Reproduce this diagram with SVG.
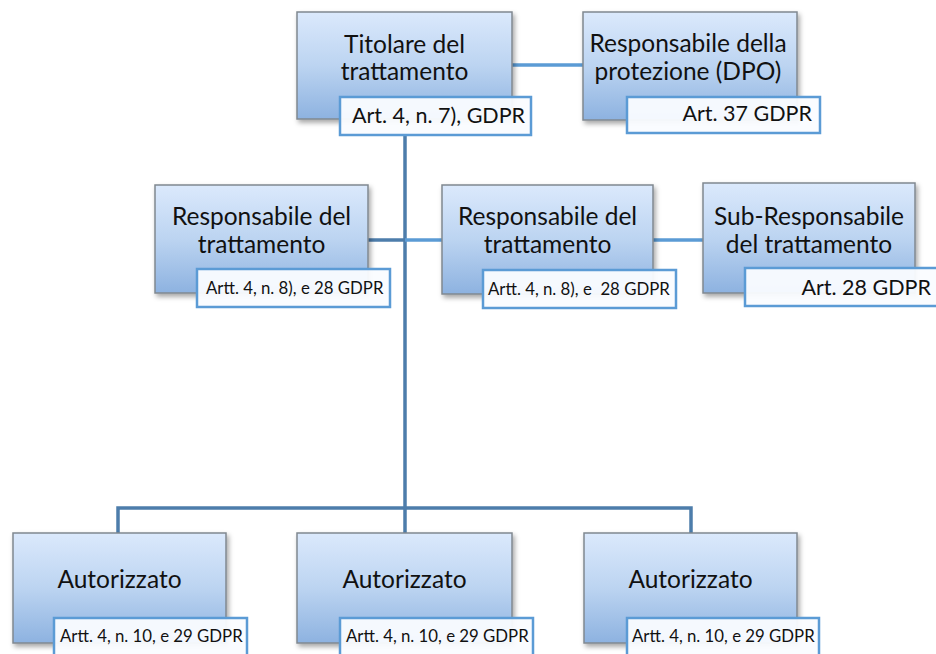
<svg xmlns="http://www.w3.org/2000/svg" width="936" height="654" viewBox="0 0 936 654">
<defs>
<linearGradient id="g" x1="0" y1="0" x2="0" y2="1">
<stop offset="0" stop-color="#dbe9fc"/>
<stop offset="0.5" stop-color="#bcd4f1"/>
<stop offset="1" stop-color="#8db2e0"/>
</linearGradient>
<filter id="sh" x="-10%" y="-10%" width="125%" height="130%">
<feDropShadow dx="2" dy="3" stdDeviation="2.5" flood-color="#000" flood-opacity="0.35"/>
</filter>
</defs>
<style>
.box{fill:url(#g);stroke:#808890;stroke-width:1.5;filter:url(#sh)}
.lab{fill:#fafcff;fill-opacity:0.95;stroke:#5b9bd5;stroke-width:2.5}
.t{font-family:Lato,"Liberation Sans",sans-serif;font-size:24.5px;fill:#111;text-anchor:middle}
.l{font-family:Lato,"Liberation Sans",sans-serif;font-size:21.5px;fill:#111}
.s{font-family:Lato,"Liberation Sans",sans-serif;font-size:16.8px;fill:#111}
.r{text-anchor:end}
.trunk{fill:none;stroke:#4d7dab;stroke-width:3.5}
.side{fill:none;stroke:#5b9bd5;stroke-width:3.5}
</style>
<g id="connectors">
<line class="side" x1="512" y1="65" x2="583" y2="65"/>
<line class="trunk" x1="405" y1="135" x2="405" y2="508"/>
<line class="trunk" x1="368" y1="240" x2="405" y2="240"/>
<line class="side" x1="405" y1="240" x2="442" y2="240"/>
<line class="side" x1="653" y1="240" x2="703" y2="240"/>
<polyline class="trunk" points="118,533 118,508 691,508 691,533"/>
<line class="trunk" x1="405" y1="508" x2="405" y2="533"/>
</g>
<g id="titolare">
<rect class="box" x="297" y="12" width="215" height="107"/>
<text class="t" x="404.5" y="53">Titolare del</text>
<text class="t" x="404.5" y="80">trattamento</text>
<rect class="lab" x="340" y="97" width="191" height="38"/>
<text class="l" x="352" y="123">Art. 4, n. 7), GDPR</text>
</g>
<g id="dpo">
<rect class="box" x="583" y="12" width="214" height="108"/>
<text class="t" x="688" y="52">Responsabile della</text>
<text class="t" x="688" y="80">protezione (DPO)</text>
<rect class="lab" x="627" y="97" width="193" height="36"/>
<text class="l r" x="812" y="121">Art. 37 GDPR</text>
</g>
<g id="resp1">
<rect class="box" x="155" y="185" width="213" height="108"/>
<text class="t" x="261.5" y="225">Responsabile del</text>
<text class="t" x="261.5" y="253">trattamento</text>
<rect class="lab" x="197" y="269" width="193" height="38"/>
<text class="s" x="206" y="294">Artt. 4, n. 8), e 28 GDPR</text>
</g>
<g id="resp2">
<rect class="box" x="442" y="185" width="211" height="109"/>
<text class="t" x="547.5" y="225">Responsabile del</text>
<text class="t" x="547.5" y="253">trattamento</text>
<rect class="lab" x="483" y="270" width="193" height="38"/>
<text class="s" x="488" y="295" xml:space="preserve">Artt. 4, n. 8), e  28 GDPR</text>
</g>
<g id="subresp">
<rect class="box" x="703" y="183" width="212" height="110"/>
<text class="t" x="809" y="225">Sub-Responsabile</text>
<text class="t" x="809" y="253">del trattamento</text>
<rect class="lab" x="745" y="268" width="195" height="38"/>
<text class="l r" x="931" y="295">Art. 28 GDPR</text>
</g>
<g id="aut1">
<rect class="box" x="13" y="533" width="213" height="110"/>
<text class="t" x="119.5" y="588">Autorizzato</text>
<rect class="lab" x="54" y="618" width="193" height="40"/>
<text class="s" x="60" y="642">Artt. 4, n. 10, e 29 GDPR</text>
</g>
<g id="aut2">
<rect class="box" x="297" y="533" width="215" height="110"/>
<text class="t" x="404.5" y="588">Autorizzato</text>
<rect class="lab" x="340" y="618" width="193" height="40"/>
<text class="s" x="346" y="642">Artt. 4, n. 10, e 29 GDPR</text>
</g>
<g id="aut3">
<rect class="box" x="584" y="533" width="213" height="110"/>
<text class="t" x="690.5" y="588">Autorizzato</text>
<rect class="lab" x="627" y="618" width="192" height="40"/>
<text class="s" x="632" y="642">Artt. 4, n. 10, e 29 GDPR</text>
</g>
</svg>
